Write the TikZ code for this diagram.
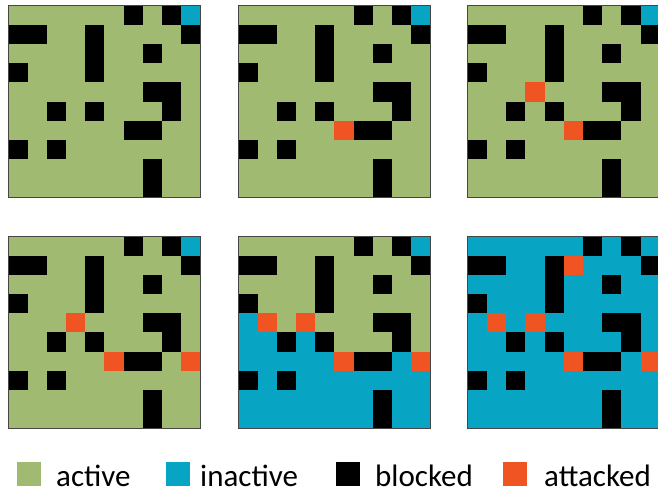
\documentclass[tikz,border=0pt]{standalone}
\usepackage{fontspec}
\setmainfont{Carlito}

\definecolor{cactive}{RGB}{160,186,114}
\definecolor{cinactive}{RGB}{8,164,196}
\definecolor{cblocked}{RGB}{0,0,0}
\definecolor{cattacked}{RGB}{240,84,34}
\definecolor{cframe}{RGB}{70,70,70}

% fill a list of cells row/col with one colour (an empty list draws nothing)
\newcommand\gridcells[2]{%
  \edef\celllist{#2}%
  \ifx\celllist\empty\else
    \foreach \r/\c in \celllist {\fill[#1] (\c,\r) rectangle ++(1,1);}%
  \fi}
\newcommand\blockedcells{0/6,0/8,1/0,1/1,1/4,2/4,3/4,1/9,2/7,3/0,4/7,4/8,5/8,5/2,5/4,6/6,6/7,7/0,7/2,8/7,9/7}

\tikzset{
  gridbox/.style={x=19.2pt,y=-19.2pt},
  framebox/.style={draw=cframe,line width=0.8pt},
  legendsq/.style={minimum width=24pt,minimum height=24pt,inner sep=0pt,anchor=north west},
  legendtxt/.style={anchor=base west,inner sep=0pt,text depth=0pt,font=\fontsize{31}{36}\selectfont}
}

% one 10x10 lattice: #1 shift, #2 base colour, #3 inactive cells, #4 attacked cells
\newcommand\lattice[4]{%
  \begin{scope}[shift={#1},gridbox]
    \fill[#2] (0,0) rectangle (10,10);
    \gridcells{cinactive}{#3}
    \gridcells{cblocked}{\blockedcells}
    \gridcells{cattacked}{#4}
    \draw[framebox] (0,0) rectangle (10,10);
  \end{scope}}

\begin{document}
\begin{tikzpicture}[x=1pt,y=-1pt]
\useasboundingbox (0,0) rectangle (658,491);
\clip (0,0) rectangle (658,491);

% top row
\lattice{(8.3pt,-5.5pt)}{cactive}{0/9}{}
\lattice{(238.3pt,-5.5pt)}{cactive}{0/9}{6/5}
\lattice{(467.8pt,-5.5pt)}{cactive}{0/9}{4/3,6/5}
% bottom row
\lattice{(8.3pt,-236.3pt)}{cactive}{0/9}{4/3,6/5,6/9}
\lattice{(238.3pt,-236.3pt)}{cactive}{0/9,4/0,5/0,5/1,5/3,6/0,6/1,6/2,6/3,6/4,6/8,7/0,7/1,7/2,7/3,7/4,7/5,7/6,7/7,7/8,7/9,8/0,8/1,8/2,8/3,8/4,8/5,8/6,8/7,8/8,8/9,9/0,9/1,9/2,9/3,9/4,9/5,9/6,9/7,9/8,9/9}{4/1,4/3,6/5,6/9}
\lattice{(467.8pt,-236.3pt)}{cinactive}{}{1/5,4/1,4/3,6/5,6/9}

% legend
\node[legendsq,fill=cactive]   (sqa) at (17,462) {};
\node[legendtxt] (ta) at (56,486) {active};
\node[legendsq,fill=cinactive] (sqi) at (166,462) {};
\node[legendtxt] (ti) at (200,486) {inactive};
\node[legendsq,fill=cblocked]  (sqb) at (336,462) {};
\node[legendtxt] (tb) at (375,486) {blocked};
\node[legendsq,fill=cattacked] (sqt) at (503,462) {};
\node[legendtxt] (tt) at (544,486) {attacked};
\end{tikzpicture}
\end{document}
